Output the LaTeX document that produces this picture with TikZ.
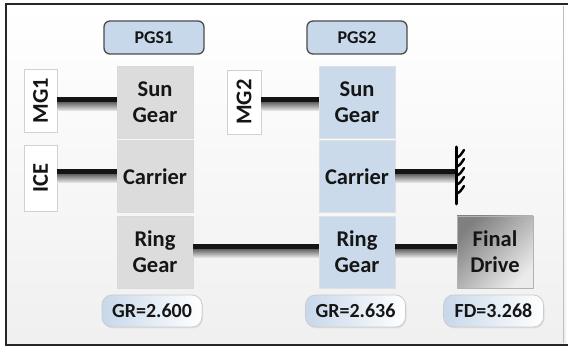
\documentclass[tikz,border=0pt]{standalone}
\usepackage{fontspec}
\setmainfont{Carlito}
\usetikzlibrary{shadows}
\definecolor{pgsblue}{HTML}{C7D8EA}
\definecolor{gearblue}{HTML}{CADAEA}
\definecolor{geargray}{HTML}{DCDCDC}
\definecolor{txt}{HTML}{151515}
\tikzset{
  bigtxt/.style={font=\bfseries\fontsize{22.5}{26}\selectfont, text=txt, align=center},
  pgsbox/.style={draw=black!70, line width=1.3pt, fill=pgsblue, rounded corners=6pt,
    minimum width=100pt, minimum height=33pt, font=\bfseries\fontsize{18}{20}\selectfont, text=txt},
  gear1/.style={bigtxt, draw=black!15, fill=geargray, minimum width=76pt, minimum height=72pt},
  gear2/.style={bigtxt, draw=black!12, fill=gearblue, minimum width=76pt, minimum height=72pt},
  srcbox/.style={bigtxt, draw=black!18, fill=white, rotate=90, minimum height=33pt, inner sep=1pt},
  grbox/.style={draw=black!20, line width=0.8pt, rounded corners=10pt, left color=pgsblue, right color=white,
    minimum width=100pt, minimum height=32pt, font=\bfseries\fontsize{20}{22}\selectfont, text=txt,
    drop shadow={opacity=0.15, shadow xshift=1pt, shadow yshift=-1.5pt}},
  fdbox/.style={bigtxt, draw=black!30, shading=axis, top color=black!50, bottom color=black!8,
    shading angle=45, minimum width=76pt, minimum height=72pt},
  shaft/.style={fill=black!92, draw=none, path picture={
    \shade[top color=black!92, bottom color=black!6]
      ([yshift=1.5pt]path picture bounding box.west) rectangle (path picture bounding box.south east);}},
  groundline/.style={line width=3pt, black, line cap=round},
  hatch/.style={line width=2.4pt, black, line cap=round}
}
\begin{document}
\begin{tikzpicture}[x=1pt,y=-1pt]
\useasboundingbox (0,0) rectangle (568,347);
% background
\shade[top color=white, bottom color=black!6] (6,4) rectangle (566,345);
\draw[black!25, line width=0.6pt] (563,6) -- (563,343);
\draw[line width=2.2pt, black!85] (568,4) -- (6,4) -- (6,345) -- (568,345);

% PGS labels
\node[pgsbox] (pgs1) at (154,37.5) {PGS1};
\node[pgsbox] (pgs2) at (357,37.5) {PGS2};

% PGS1 gears
\node[gear1] (sun1) at (155,102) {Sun\\Gear};
\node[gear1] (car1) at (155,176.5) {Carrier};
\node[gear1] (ring1) at (155,252) {Ring\\Gear};

% PGS2 gears
\node[gear2] (sun2) at (357,102) {Sun\\Gear};
\node[gear2] (car2) at (357,176.5) {Carrier};
\node[gear2] (ring2) at (357,252) {Ring\\Gear};

% sources
\node[srcbox, minimum width=63pt] (mg1) at (40.5,100.5) {MG1};
\node[srcbox, minimum width=64pt, minimum height=34pt] (mg2) at (244,102) {MG2};
\node[srcbox, minimum width=66pt] (ice) at (40.5,178) {ICE};

% final drive
\node[fdbox] (fd) at (495,252) {Final\\Drive};

% ratio labels
\node[grbox] (gr1) at (152,311) {GR=2.600};
\node[grbox] (gr2) at (355.5,311) {GR=2.636};
\node[grbox] (fdr) at (493.5,311) {FD=3.268};

% ground
\coordinate (gtop) at (456,147);
\coordinate (gbot) at (456,204);

% shafts
\path[shaft] (mg1.south |- 0,97) rectangle (sun1.west |- 0,111);
\path[shaft] (ice.south |- 0,169) rectangle (car1.west |- 0,183);
\path[shaft] (ring1.east |- 0,244) rectangle (ring2.west |- 0,258);
\path[shaft] (mg2.south |- 0,97) rectangle (sun2.west |- 0,111);
\path[shaft] (car2.east |- 0,169) rectangle (gtop |- 0,183);
\path[shaft] (ring2.east |- 0,244) rectangle (fd.west |- 0,258);

% ground symbol
\draw[groundline] (gtop) -- (gbot);
\foreach \y in {158,167,176,185,194}
  \draw[hatch] (456,\y) .. controls (460,\y-2) .. (464,\y-8);
\end{tikzpicture}
\end{document}
